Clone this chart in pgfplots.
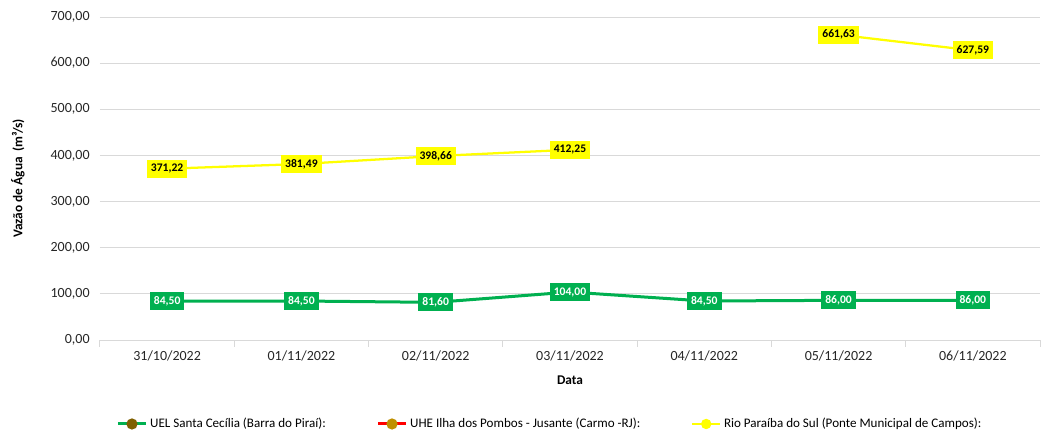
\documentclass[border=0pt]{standalone}
\usepackage{fontspec}
\setmainfont{Carlito}
\usepackage{pgfplots}
\pgfplotsset{compat=1.18}
\definecolor{cgreen}{HTML}{00B050}
\definecolor{cyel}{HTML}{FFFF00}
\definecolor{cred}{HTML}{FF0000}
\definecolor{cgrid}{HTML}{D9D9D9}
\definecolor{ctxt}{HTML}{262626}
\definecolor{colive}{HTML}{7F6000}
\definecolor{corng}{HTML}{BF9000}
\begin{document}
\begin{tikzpicture}
\begin{axis}[name=ax, scale only axis, width=705pt, height=242.25pt,
  xmin=-0.5, xmax=6.5, ymin=0, ymax=700,
  xtick={0,...,6},
  xticklabels={31/10/2022,01/11/2022,02/11/2022,03/11/2022,04/11/2022,05/11/2022,06/11/2022},
  minor xtick={-0.5,0.5,...,6.5},
  major x tick style={draw=none},
  minor x tick style={draw=cgrid, line width=0.75pt},
  minor tick length=5pt, tick align=outside,
  ytick={0,100,...,700},
  major y tick style={draw=none},
  ymajorgrids, grid style={cgrid, line width=0.75pt},
  axis x line*=bottom, axis y line*=left,
  x axis line style={-, draw=cgrid, line width=0.75pt},
  y axis line style={draw=none},
  unbounded coords=jump,
  yticklabel={\pgfmathprintnumber[fixed,fixed zerofill,precision=2,use comma,1000 sep={},assume math mode=true]{\tick}},
  tick label style={font=\fontsize{10.5}{12}\selectfont, text=ctxt},
  xlabel={\bfseries Data}, ylabel={\bfseries Vazão de Água\ \ (m³/s)},
  label style={font=\fontsize{10}{12}\selectfont},
  xlabel style={at={(axis description cs:0.5,-0.124)}, anchor=center},
  ylabel style={at={(axis description cs:-0.0872,0.5)}, anchor=center},
  legend style={at={(axis description cs:0.013,-0.26)}, anchor=west, draw=none,
    font=\fontsize{9.8}{11}\selectfont, text=black,
    /tikz/every even column/.append style={column sep=36pt}},
  legend columns=3,
  legend image code/.code={\draw[mark repeat=2,mark phase=2,#1] plot coordinates {(0pt,0pt) (10.5pt,0pt) (21pt,0pt)};},
  nodes near coords={\pgfmathprintnumber[fixed,fixed zerofill,precision=2,use comma,assume math mode=true]{\pgfplotspointmeta}},
]
\addplot[cgreen, line width=2.25pt, mark=*, mark size=3pt, mark options={fill=colive, draw=colive},
  every node near coord/.style={anchor=center, fill=cgreen, text=white, font=\bfseries\fontsize{8.7}{10}\selectfont, inner xsep=3pt, inner ysep=0pt, minimum height=13.5pt}]
  coordinates {(0,84.5) (1,84.5) (2,81.6) (3,104) (4,84.5) (5,86) (6,86)};
\addlegendentry{UEL Santa Cecília (Barra do Piraí):}
\addlegendimage{cred, line width=2.25pt, mark=*, mark size=3pt, mark options={fill=corng, draw=corng}}
\addlegendentry{UHE Ilha dos Pombos - Jusante (Carmo -RJ):}
\addplot[cyel, line width=1.7pt, mark=*, mark size=3pt, mark options={fill=cyel, draw=cyel},
  every node near coord/.style={anchor=center, fill=cyel, text=black, font=\bfseries\fontsize{8.7}{10}\selectfont, inner xsep=3pt, inner ysep=0pt, minimum height=13.5pt}]
  coordinates {(0,371.22) (1,381.49) (2,398.66) (3,412.25) (4,nan) (5,661.63) (6,627.59)};
\addlegendentry{Rio Paraíba do Sul (Ponte Municipal de Campos):}
\end{axis}
\pgfresetboundingbox
\path[use as bounding box] ([shift={(-75pt,-69.75pt)}]ax.south west) rectangle ([shift={(1.5pt,12.75pt)}]ax.north east);
\end{tikzpicture}
\end{document}
